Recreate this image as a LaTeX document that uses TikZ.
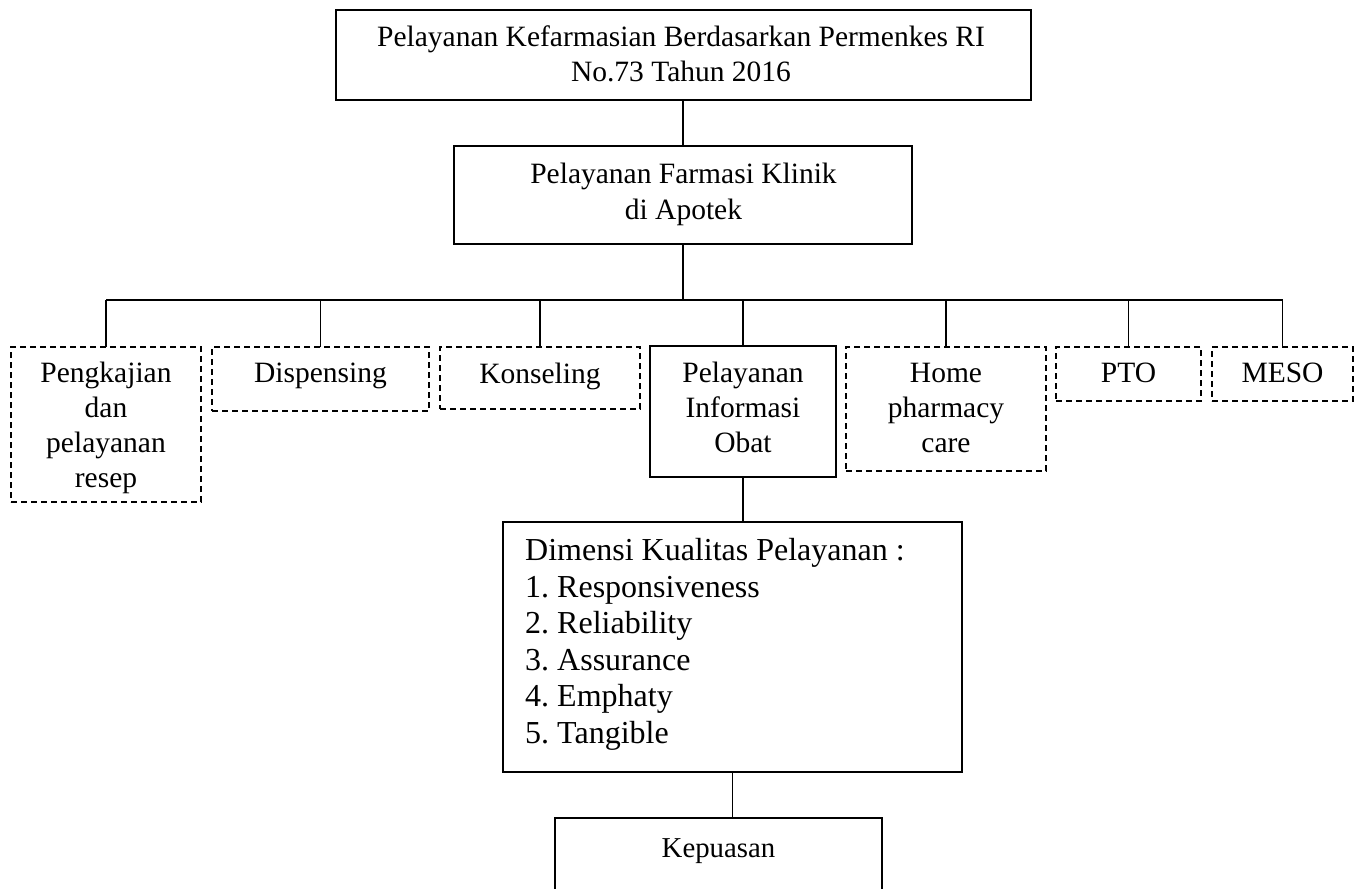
\documentclass[tikz,border=0pt]{standalone}
\usepackage{fontspec}
\setmainfont{Liberation Serif}
\frenchspacing
\begin{document}
\frenchspacing
\begin{tikzpicture}[x=1pt,y=-1pt,
  box/.style={draw, line width=1.9pt, inner sep=0pt, outer sep=0pt},
  dbox/.style={box, dash pattern=on 6pt off 4pt},
  conn/.style={line width=1.9pt},
  txt/.style={inner sep=0pt, anchor=base, font=\fontsize{29.5}{35}\selectfont},
]
\useasboundingbox (0,0) rectangle (1366,889);
\fill[white] (0,0) rectangle (1366,889);
\begin{scope}
\clip (0,0) rectangle (1366,889);
% boxes
\node[box, minimum width=695pt, minimum height=90pt] (top) at (683.5,55) {};
\node[box, minimum width=458pt, minimum height=98pt] (klinik) at (683,195) {};
\node[dbox, minimum width=190pt, minimum height=155pt] (b1) at (106,424.5) {};
\node[dbox, minimum width=217pt, minimum height=64pt] (b2) at (320.5,379) {};
\node[dbox, minimum width=200pt, minimum height=62pt] (b3) at (540,378) {};
\node[box, minimum width=186pt, minimum height=131pt] (b4) at (743,411.5) {};
\node[dbox, minimum width=200pt, minimum height=124pt] (b5) at (946,409) {};
\node[dbox, minimum width=145pt, minimum height=54pt] (b6) at (1128.5,374) {};
\node[dbox, minimum width=141pt, minimum height=54pt] (b7) at (1282.5,374) {};
\node[box, minimum width=459pt, minimum height=250pt] (dim) at (732.5,647) {};
\node[box, minimum width=327pt, minimum height=140pt] (kep) at (718.5,888) {};
% texts
\node[txt] (ttop) at (681,46.7) {\begin{tabular}[t]{@{}c@{}}Pelayanan Kefarmasian Berdasarkan Permenkes RI\\No.73 Tahun 2016\end{tabular}};
\node[txt, font=\fontsize{29.5}{36}\selectfont] (tklinik) at (683.5,183) {\begin{tabular}[t]{@{}c@{}}Pelayanan Farmasi Klinik\\di Apotek\end{tabular}};
\node[txt] (t1) at (106,382) {\begin{tabular}[t]{@{}c@{}}Pengkajian\\dan\\pelayanan\\resep\end{tabular}};
\node[txt] (t2) at (320.5,382) {Dispensing};
\node[txt] (t3) at (540,383) {Konseling};
\node[txt] (t4) at (743,382) {\begin{tabular}[t]{@{}c@{}}Pelayanan\\Informasi\\Obat\end{tabular}};
\node[txt] (t5) at (946,382) {\begin{tabular}[t]{@{}c@{}}Home\\pharmacy\\care\end{tabular}};
\node[txt] (t6) at (1128.5,382) {PTO};
\node[txt] (t7) at (1282.5,382) {MESO};
\node[txt, anchor=base west, font=\fontsize{32}{36.5}\selectfont] (tdim) at (525,560.7) {\begin{tabular}[t]{@{}l@{}}Dimensi Kualitas Pelayanan :\\1. Responsiveness\\2. Reliability\\3. Assurance\\4. Emphaty\\5. Tangible\end{tabular}};
\node[txt, font=\fontsize{28.8}{34}\selectfont] (tkep) at (718.5,857.3) {Kepuasan};
% connectors
\coordinate (hL) at (106,300);
\coordinate (hR) at (1282.5,300);
\draw[conn] (klinik.north |- top.south) -- (klinik.north);
\draw[conn] (klinik.south) -- (klinik.south |- hL);
\draw[conn] (hL) -- (hR);
\foreach \b in {b1,b2,b3,b4,b5,b6,b7} {
  \draw[conn] (\b.north) -- (\b.north |- hL);
}
\draw[conn] (b4.south) -- (b4.south |- dim.north);
\draw[conn] (dim.south) -- (dim.south |- kep.north);
\end{scope}
\end{tikzpicture}
\end{document}
